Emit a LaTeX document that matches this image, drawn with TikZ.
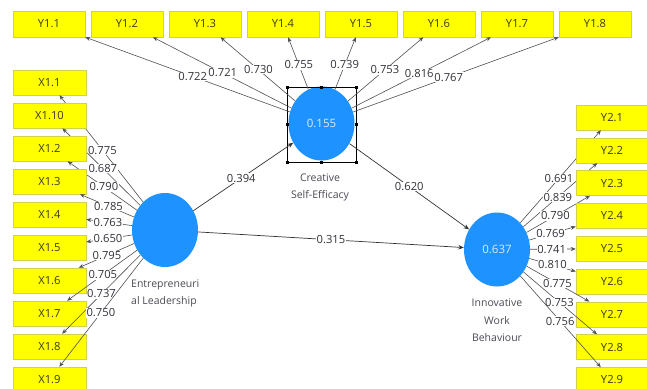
\documentclass[tikz,border=0pt]{standalone}
\usepackage{fontspec}
\setmainfont{Open Sans}
\usetikzlibrary{arrows.meta,shapes.geometric}
\definecolor{boxyel}{RGB}{255,255,0}
\definecolor{boxedge}{RGB}{210,210,70}
\definecolor{indtext}{RGB}{60,60,25}
\definecolor{lvblue}{RGB}{30,146,255}
\definecolor{lvtext}{RGB}{215,235,255}
\definecolor{numtext}{RGB}{50,50,60}
\definecolor{captext}{RGB}{75,75,85}
\definecolor{linegrey}{RGB}{80,80,80}
\begin{document}
\begin{tikzpicture}[x=1pt,y=-1pt,
  ind/.style={rectangle, draw=boxedge, line width=0.5pt, fill=boxyel, minimum width=72pt, minimum height=25pt, inner sep=0pt, text=indtext, font=\fontsize{11.2}{13}\selectfont},
  lv/.style={ellipse, fill=lvblue, minimum width=66pt, minimum height=74pt, inner sep=0pt, text=lvtext, font=\fontsize{11.5}{13}\selectfont},
  lvcap/.style={text=captext, font=\fontsize{10.5}{17.5}\selectfont, inner sep=0pt},
  ld/.style={draw=linegrey, line width=0.6pt, -{Stealth[length=5pt,width=4pt]}},
  structarrow/.style={draw=black!80, line width=0.7pt, -{Stealth[length=5.5pt,width=4.5pt]}},
  lbl/.style={fill=white, inner sep=0.6pt, text=numtext, font=\fontsize{11.2}{13}\selectfont}]
\fill[white] (0,0) rectangle (647,388);
\useasboundingbox (0,0) rectangle (647,388);

% latent variables
\node[lv] (cse) at (321.5,123.5) {0.155};
\node[lv] (el) at (165,230) {};
\node[lv] (iwb) at (497,249.5) {0.637};

\node[lvcap, align=center] (csecap) at (320,187.5) {Creative\\Self-Efficacy};
\node[lvcap, align=left, anchor=west] (elcap) at (131,293.5) {Entrepreneuri\\al Leadership};
\node[lvcap, align=center] (iwbcap) at (497,320.5) {Innovative\\Work\\Behaviour};

% selection frame around Creative Self-Efficacy
\draw[black, line width=0.5pt] (287,87) rectangle (356,162);
\foreach \hx/\hy in {287/87, 321.5/87, 356/87, 287/124.5, 356/124.5, 287/162, 321.5/162, 356/162}
  \fill[black] ({\hx-1.5},{\hy-1.5}) rectangle ++(3,3);

% indicators Y1
\foreach \i/\v/\p [count=\k from 0] in {1/0.722/0.475, 2/0.721/0.495, 3/0.730/0.49, 4/0.755/0.47, 5/0.739/0.47, 6/0.753/0.49, 7/0.816/0.485, 8/0.767/0.465} {
  \node[ind, minimum height=26pt] (ya\i) at ({49+78*\k},24) {Y1.\i};
  \draw[ld] (cse) -- node[lbl,pos=\p] {\v} (ya\i);
}

% indicators X1
\foreach \t/\v/\p [count=\k from 0] in {1.1/0.775/0.487, 1.10/0.687/0.48, 1.2/0.790/0.476, 1.3/0.785/0.47, 1.4/0.763/0.525, 1.5/0.650/0.525, 1.6/0.795/0.49, 1.7/0.705/0.49, 1.8/0.737/0.496, 1.9/0.750/0.505} {
  \node[ind, minimum width=73pt] (xa\k) at (49.5,{82.5+33*\k}) {X\t};
  \draw[ld] (el) -- node[lbl,pos=\p] {\v} (xa\k);
}

% indicators Y2
\foreach \i/\v/\p [count=\k from 0] in {1/0.691/0.48, 2/0.839/0.467, 3/0.790/0.455, 4/0.769/0.46, 5/0.741/0.47, 6/0.810/0.5, 7/0.775/0.49, 8/0.753/0.49, 9/0.756/0.495} {
  \node[ind] (yb\i) at (612,{117.5+32.8*\k}) {Y2.\i};
  \draw[ld] (iwb) -- node[lbl,pos=\p] {\v} (yb\i);
}

% structural paths
\draw[structarrow] (el) -- node[lbl,pos=0.48] {0.394} (cse);
\draw[structarrow] (cse) -- node[lbl,pos=0.5] {0.620} (iwb);
\draw[structarrow] (el) -- node[lbl,pos=0.5] {0.315} (iwb);
\end{tikzpicture}
\end{document}
